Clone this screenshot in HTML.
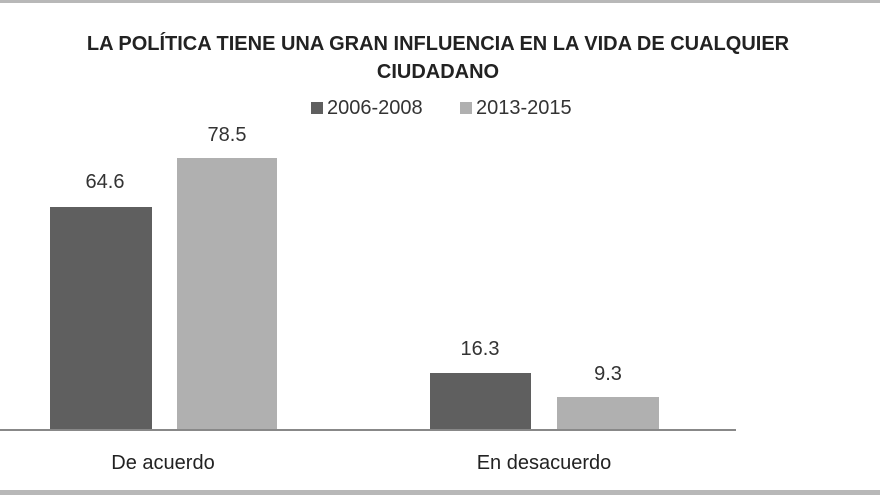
<!DOCTYPE html>
<html><head><style>
body{margin:0;width:880px;height:495px;background:#fff;position:relative;overflow:hidden;font-family:"Liberation Sans",sans-serif;}
.a{position:absolute}
.t{left:0;width:876px;text-align:center;font-weight:bold;font-size:20px;color:#222;white-space:nowrap}
.v{font-size:20px;color:#333;text-align:center;width:100px}
</style></head><body>
<div class="a" style="left:0;top:0;width:880px;height:3px;background:#b8b8b8"></div>
<div class="a" style="left:0;top:490px;width:880px;height:5px;background:#b8b8b8"></div>
<div class="a t" style="top:33px">LA POLÍTICA TIENE UNA GRAN INFLUENCIA EN LA VIDA DE CUALQUIER</div>
<div class="a t" style="top:61px">CIUDADANO</div>
<div class="a" style="left:311px;top:102px;width:12px;height:12px;background:#5f5f5f"></div>
<div class="a" style="left:327px;top:97px;font-size:20px;color:#333">2006-2008</div>
<div class="a" style="left:460px;top:102px;width:12px;height:12px;background:#b0b0b0"></div>
<div class="a" style="left:476px;top:97px;font-size:20px;color:#333">2013-2015</div>
<div class="a" style="left:50px;top:207px;width:102px;height:223px;background:#5f5f5f"></div>
<div class="a" style="left:177px;top:158px;width:100px;height:272px;background:#b0b0b0"></div>
<div class="a" style="left:430px;top:373px;width:101px;height:57px;background:#5f5f5f"></div>
<div class="a" style="left:557px;top:397px;width:102px;height:33px;background:#b0b0b0"></div>
<div class="a v" style="left:55px;top:171px">64.6</div>
<div class="a v" style="left:177px;top:124px">78.5</div>
<div class="a v" style="left:430px;top:338px">16.3</div>
<div class="a v" style="left:558px;top:363px">9.3</div>
<div class="a" style="left:0;top:429px;width:736px;height:2px;background:#888"></div>
<div class="a" style="left:63px;top:452px;width:200px;text-align:center;font-size:20px;color:#222">De acuerdo</div>
<div class="a" style="left:444px;top:452px;width:200px;text-align:center;font-size:20px;color:#222">En desacuerdo</div>
</body></html>
